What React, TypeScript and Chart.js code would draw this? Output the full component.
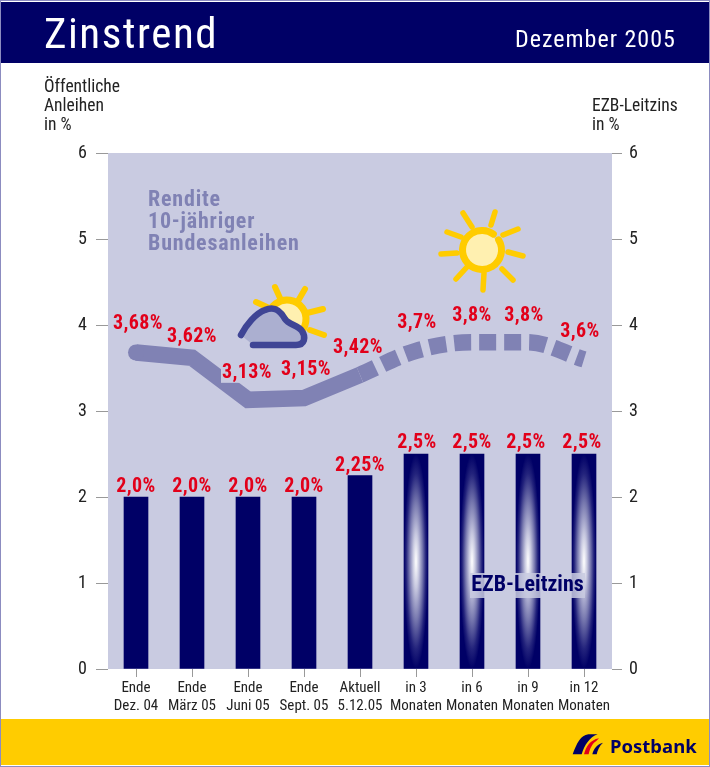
import React, { useEffect, useRef } from "react";
import { Chart, registerables } from "chart.js";

Chart.register(...registerables);

const categories: string[][] = [
  ["Ende", "Dez. 04"], ["Ende", "März 05"], ["Ende", "Juni 05"], ["Ende", "Sept. 05"],
  ["Aktuell", "5.12.05"], ["in 3", "Monaten"], ["in 6", "Monaten"], ["in 9", "Monaten"], ["in 12", "Monaten"],
];
const renditeActual = [3.68, 3.62, 3.13, 3.15, 3.42, null, null, null, null];
const renditeForecast = [null, null, null, null, 3.42, 3.7, 3.8, 3.8, 3.6];
const renditeLabels = ["3,68%", "3,62%", "3,13%", "3,15%", "3,42%", "3,7%", "3,8%", "3,8%", "3,6%"];
const leitzins = [2.0, 2.0, 2.0, 2.0, 2.25, 2.5, 2.5, 2.5, 2.5];
const leitzinsLabels = ["2,0%", "2,0%", "2,0%", "2,0%", "2,25%", "2,5%", "2,5%", "2,5%", "2,5%"];

const NAVY = "#000066";
const PLOT = "#C9CBE1";
const LINE = "#8082B4";
const RED = "#E2001A";
const SUN = "#FFCC00";
const NARROW = '"Roboto Condensed", "Liberation Sans", sans-serif';

// label placement relative to its mark: [dx, dy]
const renditeShift = [[2, -29], [0, -21], [-1, -27], [2, -28], [-2, -27], [1, -28], [0, -26], [-4, -26], [-4, -27]];
const leitzinsShift = [[0, -10], [0, -10], [0, -10], [0, -10], [0, -10], [1, -11], [0, -11], [-2, -11], [-2, -11]];

function ray(ctx: CanvasRenderingContext2D, x1: number, y1: number, x2: number, y2: number) {
  ctx.beginPath();
  ctx.moveTo(x1, y1);
  ctx.lineTo(x2, y2);
  ctx.stroke();
}

function drawBigSun(ctx: CanvasRenderingContext2D) {
  ctx.save();
  ctx.lineCap = "round";
  ctx.strokeStyle = SUN;
  ctx.lineWidth = 5.5;
  const rays = [
    [463, 213, 472, 227], [495, 212, 491, 225], [447, 232, 461, 237], [518, 229, 503, 235], [441, 254, 457, 253],
    [523, 256, 508, 252], [456, 279, 467, 267], [513, 280, 502, 269], [483, 290, 484, 273],
  ];
  rays.forEach((r) => ray(ctx, r[0], r[1], r[2], r[3]));
  ctx.fillStyle = "#FFF0B0";
  ctx.beginPath();
  ctx.arc(482, 250, 17, 0, Math.PI * 2);
  ctx.fill();
  ctx.lineWidth = 7;
  ctx.beginPath();
  ctx.arc(482, 250, 19.5, -0.55, Math.PI * 2 - 0.95);
  ctx.stroke();
  ctx.restore();
}

function drawCloudSun(ctx: CanvasRenderingContext2D) {
  ctx.save();
  ctx.lineCap = "round";
  ctx.lineJoin = "round";
  ctx.strokeStyle = SUN;
  ctx.lineWidth = 6;
  const rays = [[275, 287, 280, 298], [305, 289, 298, 301], [256, 302, 267, 307], [323, 309, 307, 313], [324, 335, 310, 330]];
  rays.forEach((r) => ray(ctx, r[0], r[1], r[2], r[3]));
  ctx.fillStyle = "#FFF0B0";
  ctx.beginPath();
  ctx.arc(289, 317, 15, 0, Math.PI * 2);
  ctx.fill();
  ctx.lineWidth = 7;
  ctx.beginPath();
  ctx.arc(287, 319, 19, Math.PI * 1.05, Math.PI * 2.3);
  ctx.stroke();
  const outline = () => {
    ctx.beginPath();
    ctx.moveTo(241, 335);
    ctx.bezierCurveTo(246, 325, 256, 313, 265, 310);
    ctx.bezierCurveTo(274, 306, 280, 310, 285, 319);
    ctx.bezierCurveTo(289, 325, 298, 325, 302, 331);
    ctx.bezierCurveTo(306, 337, 305, 345, 296, 345);
    ctx.lineTo(253, 345);
  };
  ctx.fillStyle = "#ABAFD0";
  outline();
  ctx.closePath();
  ctx.fill();
  ctx.strokeStyle = "#3F4595";
  ctx.lineWidth = 6.5;
  outline();
  ctx.stroke();
  ctx.restore();
}

const decorations = {
  id: "decorations",
  beforeDatasetsDraw(chart: any) {
    const { ctx, chartArea: a } = chart;
    ctx.save();
    ctx.fillStyle = PLOT;
    ctx.fillRect(a.left, a.top, a.right - a.left, a.bottom - a.top);
    ctx.restore();
  },
  afterDatasetDraw(chart: any, args: any) {
    if (args.index !== 2) return;
    const { ctx } = chart;
    const meta = chart.getDatasetMeta(2);
    meta.data.forEach((bar: any, i: number) => {
      if (i < 5) return;
      const top = bar.y;
      const bottom = bar.base;
      const half = bar.width / 2;
      ctx.save();
      ctx.beginPath();
      ctx.rect(bar.x - half, top, bar.width, bottom - top);
      ctx.clip();
      ctx.translate(bar.x, (top + bottom) / 2);
      ctx.scale(half, (bottom - top) / 2);
      const g = ctx.createRadialGradient(0, 0, 0, 0, 0, 1);
      g.addColorStop(0, "#FFFFFF");
      g.addColorStop(0.25, "#C8C9E0");
      g.addColorStop(0.55, "#7677AE");
      g.addColorStop(0.82, "#23237C");
      g.addColorStop(1, NAVY);
      ctx.fillStyle = g;
      ctx.fillRect(-1, -1, 2, 2);
      ctx.restore();
    });
  },
  afterDatasetsDraw(chart: any) {
    const { ctx } = chart;
    ctx.save();
    ctx.textAlign = "center";
    ctx.textBaseline = "middle";
    ctx.font = `bold 20px ${NARROW}`;
    (ctx as any).letterSpacing = "0.4px";

    const rendite = [0, 1, 2, 3, 4, 5, 6, 7, 8].map((i) => {
      const m = chart.getDatasetMeta(i < 5 ? 0 : 1).data[i];
      return { x: m.x, y: m.y };
    });
    rendite.forEach((p, i) => {
      const x = p.x + renditeShift[i][0];
      const y = p.y + renditeShift[i][1];
      if (i === 2) {
        ctx.fillStyle = PLOT;
        ctx.fillRect(x - 26, y - 10, 52, 20);
      }
      ctx.fillStyle = RED;
      ctx.fillText(renditeLabels[i], x, y);
    });
    chart.getDatasetMeta(2).data.forEach((bar: any, i: number) => {
      ctx.fillStyle = RED;
      ctx.fillText(leitzinsLabels[i], bar.x + leitzinsShift[i][0], bar.y + leitzinsShift[i][1]);
    });

    // series names
    (ctx as any).letterSpacing = "0.8px";
    ctx.textAlign = "left";
    ctx.fillStyle = LINE;
    ctx.font = `bold 22px ${NARROW}`;
    ctx.fillText("Rendite", 148, 200);
    ctx.fillText("10-jähriger", 148, 222);
    ctx.fillText("Bundesanleihen", 148, 244);
    (ctx as any).letterSpacing = "0px";

    ctx.fillStyle = "rgba(201,203,225,0.85)";
    ctx.fillRect(470, 573, 115, 25);
    ctx.fillStyle = NAVY;
    ctx.textAlign = "center";
    ctx.font = `bold 22px ${NARROW}`;
    ctx.fillText("EZB-Leitzins", 527.5, 585);
    ctx.restore();

    drawBigSun(ctx);
    drawCloudSun(ctx);
  },
};

const fitWidth = (w: number) => (scale: any) => {
  scale.width = w;
};

export default function App() {
  const ref = useRef<HTMLCanvasElement>(null);

  useEffect(() => {
    document.body.style.margin = "0";
    const chart = new Chart(ref.current!, {
      type: "bar",
      data: {
        labels: categories,
        datasets: [
          {
            type: "line",
            label: "Rendite 10-jähriger Bundesanleihen",
            data: renditeActual,
            borderColor: LINE,
            backgroundColor: LINE,
            borderWidth: 16.5,
            borderJoinStyle: "miter",
            borderCapStyle: "butt",
            tension: 0,
            pointRadius: [8, 0, 0, 0, 0, 0, 0, 0, 0],
            pointBorderWidth: 0,
            pointHoverRadius: 0,
            order: 0,
            yAxisID: "y",
          },
          {
            type: "line",
            label: "Rendite Prognose",
            data: renditeForecast,
            borderColor: LINE,
            borderWidth: 16.5,
            borderCapStyle: "butt",
            borderDash: [17, 8],
            cubicInterpolationMode: "monotone",
            pointRadius: 0,
            order: 0,
            yAxisID: "y",
          },
          {
            type: "bar",
            label: "EZB-Leitzins",
            data: leitzins,
            backgroundColor: NAVY,
            barThickness: 24,
            order: 1,
            yAxisID: "y",
          },
        ],
      } as any,
      options: {
        responsive: false,
        animation: false,
        layout: { padding: { top: 153, left: 0, right: 0, bottom: 0 } },
        plugins: { legend: { display: false }, tooltip: { enabled: false }, title: { display: false } },
        scales: {
          x: {
            offset: true,
            grid: { offset: false, drawOnChartArea: false, tickLength: 8, tickColor: "#999999", tickWidth: 1 },
            border: { display: false },
            afterFit: (s: any) => { s.height = 98; },
            ticks: {
              maxRotation: 0,
              autoSkip: false,
              padding: 2,
              color: "#222222",
              font: { family: NARROW, size: 15, lineHeight: 1.2 },
            },
          },
          y: {
            position: "left",
            min: 0,
            max: 6,
            afterFit: fitWidth(108),
            grid: { drawOnChartArea: false, tickLength: 12, tickColor: "#999999", tickWidth: 1 },
            border: { display: false },
            ticks: { stepSize: 1, padding: 9, color: "#222222", font: { family: NARROW, size: 18 } },
          },
          y2: {
            position: "right",
            display: true,
            min: 0,
            max: 6,
            afterFit: fitWidth(98),
            grid: { drawOnChartArea: false, tickLength: 10, tickColor: "#999999", tickWidth: 1 },
            border: { display: false },
            ticks: { stepSize: 1, padding: 7, color: "#222222", font: { family: NARROW, size: 18 } },
          },
        },
      } as any,
      plugins: [decorations],
    });
    return () => chart.destroy();
  }, []);

  const abs = (s: React.CSSProperties): React.CSSProperties => ({ position: "absolute", whiteSpace: "nowrap", ...s });

  return (
    <div style={{ position: "relative", width: 710, height: 767, background: "#fff", overflow: "hidden", fontFamily: NARROW }}>
      <div style={abs({ left: 0, top: 0, width: 708, height: 765, border: "1px solid #8C8CC0" })} />
      <div style={abs({ left: 1, top: 2, width: 708, height: 61, background: NAVY })} />
      <div style={abs({ left: 1, top: 719, width: 708, height: 46, background: SUN })} />
      <canvas ref={ref} width={710} height={767} style={{ position: "absolute", left: 0, top: 0 }} />
      <div style={abs({ left: 44, top: 8, fontSize: 43, lineHeight: "50px", letterSpacing: 1.5, color: "#fff" })}>Zinstrend</div>
      <div style={abs({ left: 515, top: 25, fontSize: 24, lineHeight: "28px", letterSpacing: 1, color: "#fff" })}>Dezember 2005</div>
      <div style={abs({ left: 44, top: 77, fontSize: 17.5, lineHeight: "19px", color: "#222" })}>
        Öffentliche<br />Anleihen<br />in %
      </div>
      <div style={abs({ left: 592, top: 96, fontSize: 17.5, lineHeight: "19px", color: "#222" })}>
        EZB-Leitzins<br />in %
      </div>
      <svg style={abs({ left: 560, top: 720 })} width={150} height={47} viewBox="0 0 450 141">
        <path d="M38 103 C50 70 62 46 85 43 L113 43 C88 52 74 75 65 103 Z" fill={NAVY} />
        <path d="M72 103 C78 80 90 60 117 55 L108 64 C96 72 90 86 86 103 Z" fill="#E2001A" />
        <path d="M97 103 C101 86 110 74 129 68 C118 78 113 90 110 103 Z" fill={NAVY} />
      </svg>
      <div style={abs({ left: 610, top: 732, fontFamily: '"Noto Sans", sans-serif', fontWeight: 700, fontSize: 18.5, lineHeight: "28px", color: NAVY })}>Postbank</div>
    </div>
  );
}
